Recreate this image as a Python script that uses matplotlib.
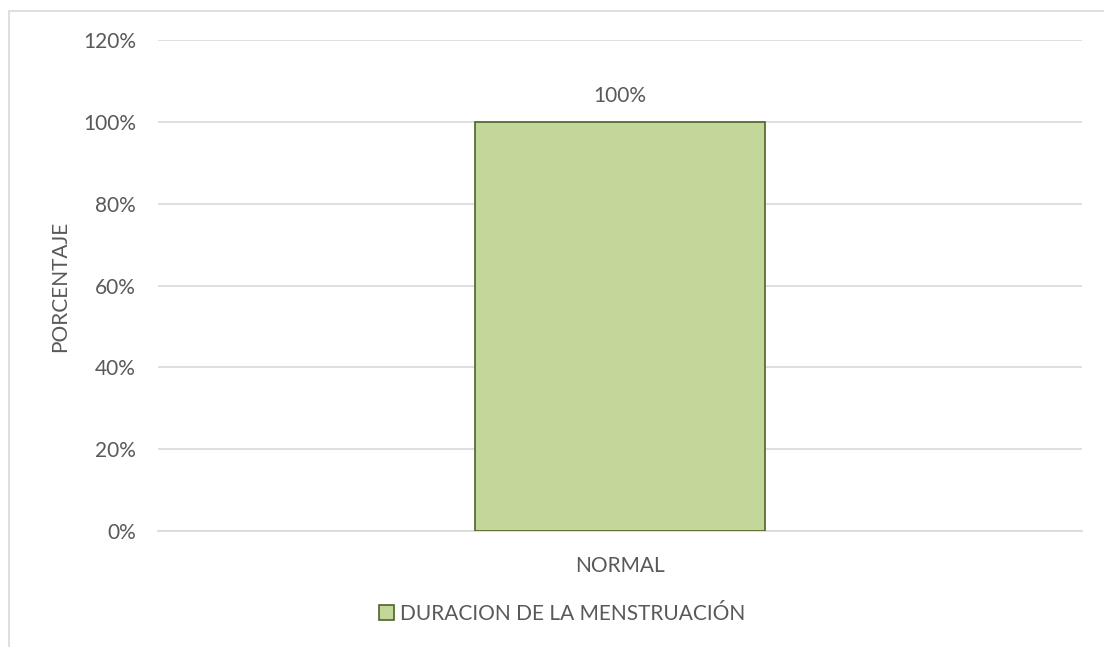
import matplotlib.pyplot as plt
import matplotlib.patches as mpatches
from matplotlib.ticker import FuncFormatter

categories = ['NORMAL']
values = [100]
series_name = 'DURACION DE LA MENSTRUACIÓN'
y_ticks = [0, 20, 40, 60, 80, 100, 120]

text_color = '#595959'
fs = 15
plt.rcParams['font.family'] = ['Lato', 'DejaVu Sans']

fig = plt.figure(figsize=(11.04, 6.47), dpi=100)
W, H = 1104, 647

# marco del gráfico
frame = mpatches.Rectangle((8.5 / W, -0.01), 1.1, 1 - 11 / H + 0.01,
                           transform=fig.transFigure, fill=False,
                           edgecolor='#D9D9D9', linewidth=1.2)
fig.patches.append(frame)

ax = fig.add_axes([158 / W, 1 - 531 / H, (1082 - 158) / W, (531 - 40) / H])
bars = ax.bar(categories, values, width=0.314, color='#C4D79B',
              edgecolor='#4F6228', linewidth=1.2, label=series_name, zorder=3)
ax.set_xlim(-0.5, 0.5)
ax.set_ylim(0, 120)
ax.set_yticks(y_ticks)
ax.yaxis.set_major_formatter(FuncFormatter(lambda v, p: f'{v:.0f}%'))
ax.grid(axis='y', color='#D9D9D9', linewidth=1.2, zorder=0)
for s in ['top', 'right', 'left']:
    ax.spines[s].set_visible(False)
ax.spines['bottom'].set_color('#D9D9D9')
ax.spines['bottom'].set_linewidth(1.2)
ax.tick_params(length=0, colors=text_color, labelsize=fs)
ax.tick_params(axis='y', pad=16)
ax.tick_params(axis='x', pad=18)

for b, v in zip(bars, values):
    ax.text(b.get_x() + b.get_width() / 2, v + 3.8, f'{v}%', ha='center',
            va='bottom', color=text_color, fontsize=fs)

fig.text(60 / W, 1 - 286 / H, 'PORCENTAJE', rotation=90, ha='center',
         va='center', color=text_color, fontsize=fs)

fig.legend(handles=[bars], labels=[series_name], loc='center',
           bbox_to_anchor=(562 / W, 1 - 614 / H), frameon=False,
           fontsize=fs, labelcolor=text_color, handlelength=0.7,
           handleheight=0.7, handletextpad=0.3)

fig.savefig('out.png', dpi=100)
